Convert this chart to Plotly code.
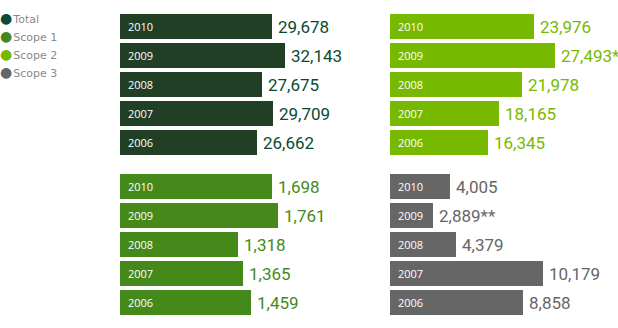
import plotly.graph_objects as go

# ---- data ----
years = ["2010", "2009", "2008", "2007", "2006"]
total = [29678, 32143, 27675, 29709, 26662]
scope1 = [1698, 1761, 1318, 1365, 1459]
scope2 = [23976, 27493, 21978, 18165, 16345]
scope3 = [4005, 2889, 4379, 10179, 8858]
total_labels = ["29,678", "32,143", "27,675", "29,709", "26,662"]
scope1_labels = ["1,698", "1,761", "1,318", "1,365", "1,459"]
scope2_labels = ["23,976", "27,493*", "21,978", "18,165", "16,345"]
scope3_labels = ["4,005", "2,889**", "4,379", "10,179", "8,858"]
legend_names = ["Total", "Scope 1", "Scope 2", "Scope 3"]

W, H = 618, 328
COL_TOTAL, COL_S1, COL_S2, COL_S3 = "#213f25", "#45891a", "#77b900", "#666666"
TXT_TOTAL = "#0a4a30"

# (values, labels, bar colour, text colour, left px, right px, units per px, top px)
panels = [
    (total, total_labels, COL_TOTAL, TXT_TOTAL, 120, 380, 194.7, 12),
    (scope2, scope2_labels, COL_S2, COL_S2, 390, 618, 166.6, 12),
    (scope1, scope1_labels, COL_S1, COL_S1, 120, 380, 11.14, 172),
    (scope3, scope3_labels, COL_S3, COL_S3, 390, 618, 66.6, 172),
]

fig = go.Figure()
annotations = []
layout_axes = {}
for i, (vals, labs, bcol, tcol, x0, x1, upp, top) in enumerate(panels):
    n = i + 1
    xa = "x" if n == 1 else f"x{n}"
    ya = "y" if n == 1 else f"y{n}"
    fig.add_trace(go.Bar(
        x=vals, y=years, orientation="h", xaxis=xa, yaxis=ya,
        marker=dict(color=bcol, line=dict(width=0)), width=25 / 29,
        hoverinfo="skip", showlegend=False,
    ))
    layout_axes["xaxis" if n == 1 else f"xaxis{n}"] = dict(
        domain=[x0 / W, x1 / W], range=[0, (x1 - x0) * upp], visible=False,
        anchor=ya, fixedrange=True,
    )
    bottom = top + 145
    layout_axes["yaxis" if n == 1 else f"yaxis{n}"] = dict(
        domain=[1 - bottom / H, 1 - top / H], type="category",
        categoryorder="array", categoryarray=years, range=[4.5, -0.5],
        visible=False, anchor=xa, fixedrange=True,
    )
    for j, (yr, v, lab) in enumerate(zip(years, vals, labs)):
        annotations.append(dict(
            x=0, y=j, xref=xa, yref=ya, text=yr, showarrow=False,
            xanchor="left", yanchor="middle", xshift=6,
            font=dict(family="Open Sans", size=11, color="white"),
        ))
        annotations.append(dict(
            x=v, y=j, xref=xa, yref=ya, text=lab, showarrow=False,
            xanchor="left", yanchor="middle", xshift=4,
            font=dict(family="Roboto", size=17, color=tcol),
        ))

leg_cols = [TXT_TOTAL, COL_S1, COL_S2, COL_S3]
for k, (name, c) in enumerate(zip(legend_names, leg_cols)):
    ypx = 18 + 18 * k
    annotations.append(dict(
        x=0, y=1 - ypx / H, xref="paper", yref="paper", showarrow=False,
        xanchor="left", yanchor="middle", xshift=-2,
        text=f'<span style="color:{c};font-size:14px">●</span>&#8202;{name}',
        font=dict(family="DejaVu Sans", size=11, color="#8a8a8a"),
    ))

fig.update_layout(
    width=W, height=H, margin=dict(l=0, r=0, t=0, b=0),
    paper_bgcolor="white", plot_bgcolor="white",
    annotations=annotations, bargap=0, hovermode=False,
    **layout_axes,
)
fig.write_html("out.html", config={"displayModeBar": False})
